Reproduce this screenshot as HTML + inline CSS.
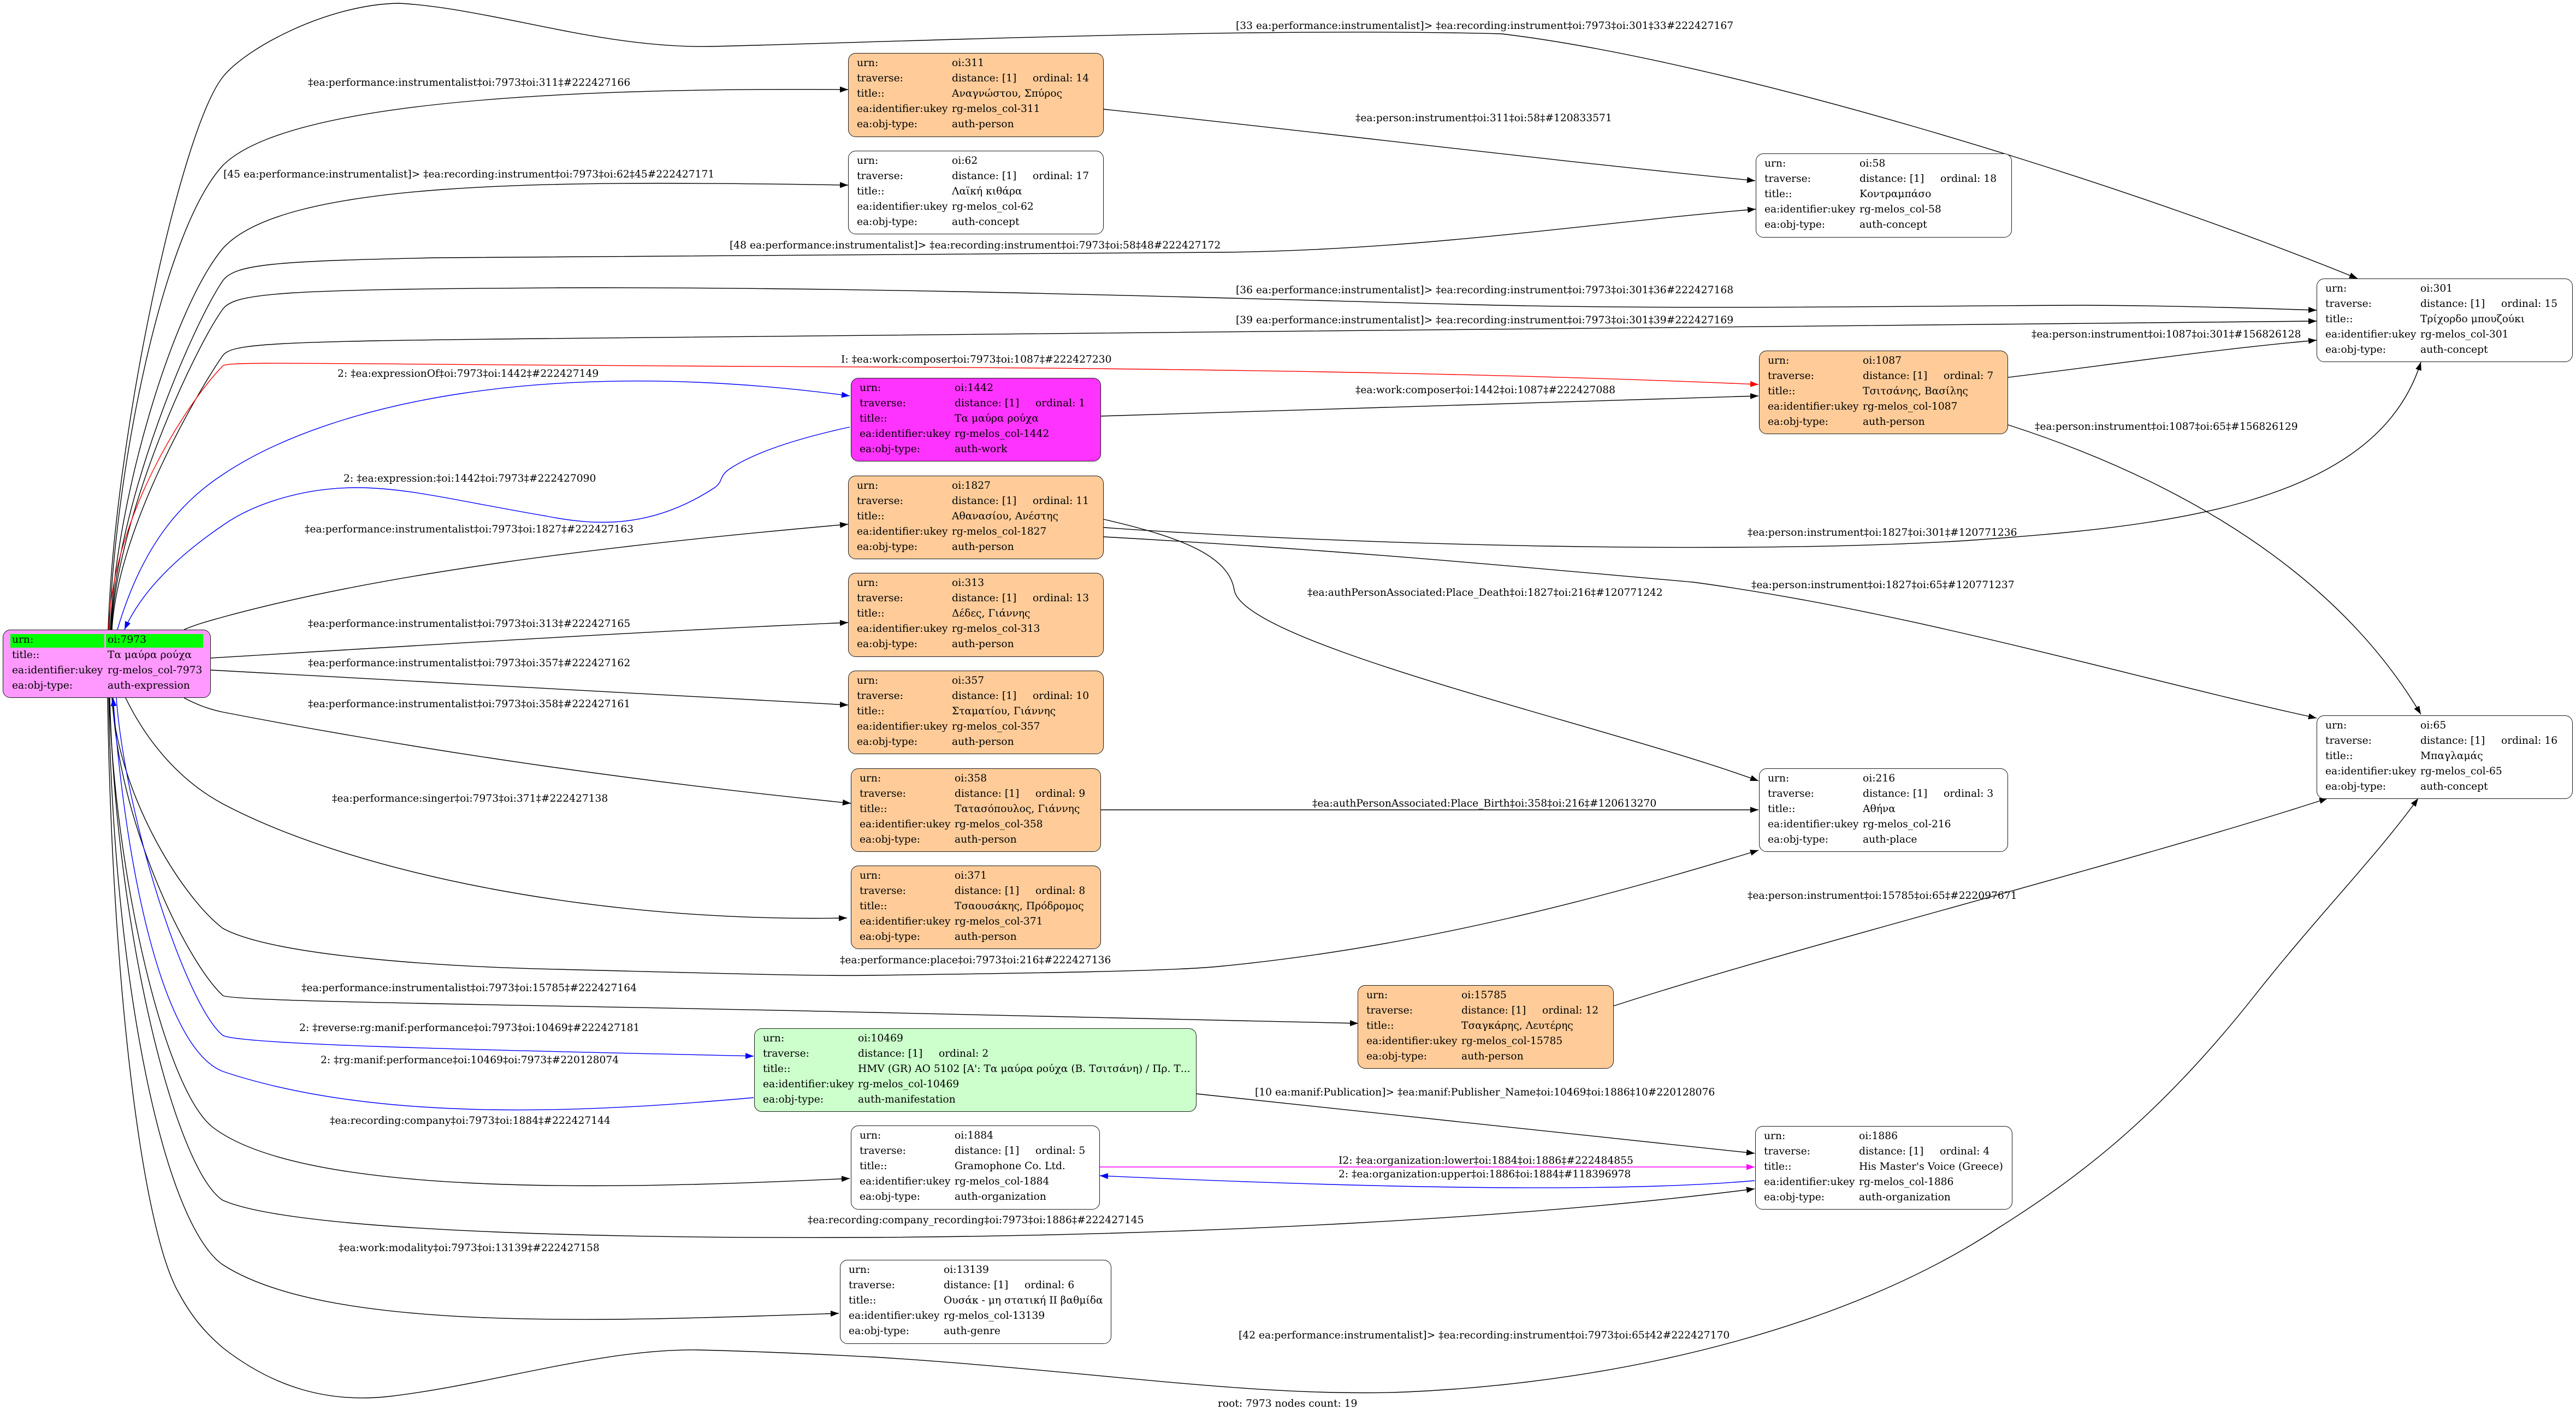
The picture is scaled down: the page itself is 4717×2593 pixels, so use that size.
<!DOCTYPE html>
<html><head><meta charset="utf-8">
<style>
body{margin:0;width:4717px;height:2593px;position:relative;background:#fff;overflow:hidden;font-family:"DejaVu Serif","Liberation Serif","Noto Serif CJK SC",serif;font-size:18.67px;color:#000}
.n{position:absolute;box-sizing:border-box;border:1.3px solid #1a1a1a;border-radius:14px}
.r{position:absolute;left:0;width:100%;height:28px;line-height:28px;white-space:nowrap}
.k{position:absolute;left:15px}
.v{position:absolute;left:189px}
.o{position:absolute;left:337px}
.l{position:absolute;white-space:nowrap;line-height:22px}
svg{position:absolute;left:0;top:0}
</style></head><body>
<svg width="4717" height="2593" viewBox="0 0 4717 2593">
<defs>
<marker id="mk" markerWidth="15" markerHeight="11" refX="15" refY="5.5" orient="auto" markerUnits="userSpaceOnUse"><path d="M0,0 L15,5.5 L0,11 z" fill="#000"/></marker>
<marker id="mb" markerWidth="15" markerHeight="11" refX="15" refY="5.5" orient="auto" markerUnits="userSpaceOnUse"><path d="M0,0 L15,5.5 L0,11 z" fill="#0000ff"/></marker>
<marker id="mr" markerWidth="15" markerHeight="11" refX="15" refY="5.5" orient="auto" markerUnits="userSpaceOnUse"><path d="M0,0 L15,5.5 L0,11 z" fill="#ff0000"/></marker>
<marker id="mm" markerWidth="15" markerHeight="11" refX="15" refY="5.5" orient="auto" markerUnits="userSpaceOnUse"><path d="M0,0 L15,5.5 L0,11 z" fill="#ff00ff"/></marker>
</defs>
<g fill="none" stroke="#000" stroke-width="1.4" marker-end="url(#mk)">
<path d="M198,1153 C210,800 330,240 408,141 C450,88 600,8 730,6 C900,15 1100,90 1306,85 C1700,75 2300,50 2750,62 C3150,110 3850,320 4317,510"/>
<path d="M200,1153 C212,850 300,420 408,303 C520,190 1000,160 1553,164"/>
<path d="M202,1153 C214,900 320,560 408,455 C520,330 1000,330 1553,339"/>
<path d="M203,1153 C214,920 350,600 408,514 C430,484 500,478 800,472 C1400,465 1900,465 2237,462 C2600,458 2900,410 3215,383"/>
<path d="M204,1153 C215,940 355,640 408,566 C430,536 520,530 1020,527 C1600,525 2200,545 2700,558 C3100,568 3600,559 3822,559 C4000,560 4150,565 4242,568"/>
<path d="M205,1153 C215,970 360,720 408,651 C425,630 480,625 1000,620 C2000,610 3000,598 4242,588"/>
<path d="M337,1153 C360,1143 380,1138 408,1130 C700,1050 1100,1000 1553,960"/>
<path d="M386,1205 C800,1180 1200,1155 1553,1140"/>
<path d="M386,1227 C800,1250 1200,1275 1553,1291"/>
<path d="M337,1278 C360,1290 380,1298 408,1304 C800,1380 1200,1435 1558,1471"/>
<path d="M230,1278 C270,1360 330,1430 408,1472 C650,1600 1100,1690 1551,1681"/>
<path d="M205,1278 C215,1450 330,1640 408,1700 C500,1750 800,1770 1020,1775 C1300,1782 1500,1788 1600,1786 C1900,1782 2150,1778 2229,1770 C2600,1735 2950,1640 3220,1557"/>
<path d="M206,1278 C215,1500 340,1760 408,1823 C420,1835 1000,1840 1600,1854 C2000,1862 2300,1870 2487,1874"/>
<path d="M200,1278 C210,1600 300,1990 388,2063 C550,2190 1100,2180 1556,2158"/>
<path d="M201,1278 C212,1700 320,2140 408,2198 C550,2260 1200,2268 1600,2266 C2200,2262 2800,2230 3213,2177"/>
<path d="M199,1278 C208,1800 300,2240 408,2316 C600,2440 1100,2420 1536,2405"/>
<path d="M197,1278 C205,1800 260,2250 327,2367 C350,2410 375,2440 408,2468 C500,2540 600,2570 714,2557 C900,2535 1100,2470 1276,2472 C1400,2475 1500,2480 1600,2485 C2000,2510 2300,2560 2575,2549 C3000,2530 3400,2420 3657,2250 C3800,2160 3950,2050 4131,1820 C4250,1670 4350,1570 4428,1462"/>
<path d="M2021,200 C2400,240 2800,290 3214,331"/>
<path d="M2016,762 C2400,750 2800,737 3220,725"/>
<path d="M3677,691 C3850,670 4050,640 4242,623"/>
<path d="M3677,778 C3900,850 4250,1000 4433,1308"/>
<path d="M2021,966 C2500,1000 3200,1015 3600,990 C3950,965 4350,930 4433,663"/>
<path d="M2021,983 C2500,1010 2800,1040 3100,1066 C3500,1120 3900,1240 4242,1315"/>
<path d="M2021,951 C2170,985 2250,1020 2260,1080 C2275,1180 2950,1330 3220,1430"/>
<path d="M2016,1483 L3220,1483"/>
<path d="M2955,1842 C3300,1730 3900,1580 4262,1462"/>
<path d="M2191,2003 L3213,2112"/>
</g>
<g fill="none" stroke="#0000ff" stroke-width="1.4" marker-end="url(#mb)">
<path d="M215,1153 C260,1000 330,920 408,869 C600,740 1000,650 1556,725"/>
<path d="M1556,782 C1450,805 1380,830 1337,858 C1316,872 1325,880 1310,892 C1200,965 1100,965 1000,945 C850,920 750,893 653,893 C550,893 460,925 408,962 C330,1015 260,1080 228,1153"/>
<path d="M213,1278 C230,1500 340,1840 408,1896 C440,1915 1000,1925 1380,1934"/>
<path d="M1380,2010 C1100,2035 700,2060 408,1962 C300,1920 230,1600 207,1278"/>
<path d="M3213,2162 C2950,2185 2500,2175 2014,2153"/>
</g>
<path d="M199,1153 C205,950 340,740 408,670 C420,660 600,668 1600,672 C2400,676 2900,690 3220,704" fill="none" stroke="#ff0000" stroke-width="1.4" marker-end="url(#mr)"/>
<path d="M2014,2137 L3213,2137" fill="none" stroke="#ff00ff" stroke-width="1.4" marker-end="url(#mm)"/>
</svg>

<!-- edge labels -->
<div class="l" style="left:2263px;top:37px">[33 ea:performance:instrumentalist]&gt; ‡ea:recording:instrument‡oi:7973‡oi:301‡33#222427167</div>
<div class="l" style="left:564px;top:141px">‡ea:performance:instrumentalist‡oi:7973‡oi:311‡#222427166</div>
<div class="l" style="left:2482px;top:206px">‡ea:person:instrument‡oi:311‡oi:58‡#120833571</div>
<div class="l" style="left:409px;top:309px">[45 ea:performance:instrumentalist]&gt; ‡ea:recording:instrument‡oi:7973‡oi:62‡45#222427171</div>
<div class="l" style="left:1336px;top:439px">[48 ea:performance:instrumentalist]&gt; ‡ea:recording:instrument‡oi:7973‡oi:58‡48#222427172</div>
<div class="l" style="left:2263px;top:521px">[36 ea:performance:instrumentalist]&gt; ‡ea:recording:instrument‡oi:7973‡oi:301‡36#222427168</div>
<div class="l" style="left:2263px;top:576px">[39 ea:performance:instrumentalist]&gt; ‡ea:recording:instrument‡oi:7973‡oi:301‡39#222427169</div>
<div class="l" style="left:3720px;top:602px">‡ea:person:instrument‡oi:1087‡oi:301‡#156826128</div>
<div class="l" style="left:1540px;top:648px">I: ‡ea:work:composer‡oi:7973‡oi:1087‡#222427230</div>
<div class="l" style="left:618px;top:674px">2: ‡ea:expressionOf‡oi:7973‡oi:1442‡#222427149</div>
<div class="l" style="left:2482px;top:704px">‡ea:work:composer‡oi:1442‡oi:1087‡#222427088</div>
<div class="l" style="left:3726px;top:771px">‡ea:person:instrument‡oi:1087‡oi:65‡#156826129</div>
<div class="l" style="left:629px;top:866px">2: ‡ea:expression:‡oi:1442‡oi:7973‡#222427090</div>
<div class="l" style="left:558px;top:959px">‡ea:performance:instrumentalist‡oi:7973‡oi:1827‡#222427163</div>
<div class="l" style="left:3200px;top:965px">‡ea:person:instrument‡oi:1827‡oi:301‡#120771236</div>
<div class="l" style="left:3207px;top:1061px">‡ea:person:instrument‡oi:1827‡oi:65‡#120771237</div>
<div class="l" style="left:2394px;top:1075px">‡ea:authPersonAssociated:Place_Death‡oi:1827‡oi:216‡#120771242</div>
<div class="l" style="left:564px;top:1132px">‡ea:performance:instrumentalist‡oi:7973‡oi:313‡#222427165</div>
<div class="l" style="left:564px;top:1204px">‡ea:performance:instrumentalist‡oi:7973‡oi:357‡#222427162</div>
<div class="l" style="left:564px;top:1279px">‡ea:performance:instrumentalist‡oi:7973‡oi:358‡#222427161</div>
<div class="l" style="left:608px;top:1452px">‡ea:performance:singer‡oi:7973‡oi:371‡#222427138</div>
<div class="l" style="left:2403px;top:1461px">‡ea:authPersonAssociated:Place_Birth‡oi:358‡oi:216‡#120613270</div>
<div class="l" style="left:3200px;top:1630px">‡ea:person:instrument‡oi:15785‡oi:65‡#222097671</div>
<div class="l" style="left:1538px;top:1748px">‡ea:performance:place‡oi:7973‡oi:216‡#222427136</div>
<div class="l" style="left:552px;top:1799px">‡ea:performance:instrumentalist‡oi:7973‡oi:15785‡#222427164</div>
<div class="l" style="left:548px;top:1872px">2: ‡reverse:rg:manif:performance‡oi:7973‡oi:10469‡#222427181</div>
<div class="l" style="left:587px;top:1931px">2: ‡rg:manif:performance‡oi:10469‡oi:7973‡#220128074</div>
<div class="l" style="left:2298px;top:1990px">[10 ea:manif:Publication]&gt; ‡ea:manif:Publisher_Name‡oi:10469‡oi:1886‡10#220128076</div>
<div class="l" style="left:604px;top:2042px">‡ea:recording:company‡oi:7973‡oi:1884‡#222427144</div>
<div class="l" style="left:2451px;top:2115px">I2: ‡ea:organization:lower‡oi:1884‡oi:1886‡#222484855</div>
<div class="l" style="left:2451px;top:2140px">2: ‡ea:organization:upper‡oi:1886‡oi:1884‡#118396978</div>
<div class="l" style="left:1479px;top:2224px">‡ea:recording:company_recording‡oi:7973‡oi:1886‡#222427145</div>
<div class="l" style="left:620px;top:2275px">‡ea:work:modality‡oi:7973‡oi:13139‡#222427158</div>
<div class="l" style="left:2268px;top:2435px">[42 ea:performance:instrumentalist]&gt; ‡ea:recording:instrument‡oi:7973‡oi:65‡42#222427170</div>
<div class="l" style="left:2230px;top:2560px">root: 7973 nodes count: 19</div>

<!-- nodes -->
<div class="n" style="left:5px;top:1153px;width:381px;height:125px;background:#ff99ff">
<div style="position:absolute;left:13px;top:7px;width:172px;height:25px;background:#00ff00"></div>
<div style="position:absolute;left:188px;top:7px;width:178px;height:25px;background:#00ff00"></div>
<div class="r" style="top:4px"><span class="k" style="left:16px">urn:</span><span class="v" style="left:191px">oi:7973</span></div>
<div class="r" style="top:32px"><span class="k" style="left:16px">title::</span><span class="v" style="left:191px">Τα μαύρα ρούχα</span></div>
<div class="r" style="top:60px"><span class="k" style="left:16px">ea:identifier:ukey</span><span class="v" style="left:191px">rg-melos_col-7973</span></div>
<div class="r" style="top:88px"><span class="k" style="left:16px">ea:obj-type:</span><span class="v" style="left:191px">auth-expression</span></div>
</div>

<div class="n" style="left:1553px;top:97px;width:468px;height:154px;background:#ffcc99">
<div class="r" style="top:4px"><span class="k">urn:</span><span class="v">oi:311</span></div>
<div class="r" style="top:32px"><span class="k">traverse:</span><span class="v">distance: [1]</span><span class="o">ordinal: 14</span></div>
<div class="r" style="top:60px"><span class="k">title::</span><span class="v">Αναγνώστου, Σπύρος</span></div>
<div class="r" style="top:88px"><span class="k">ea:identifier:ukey</span><span class="v">rg-melos_col-311</span></div>
<div class="r" style="top:116px"><span class="k">ea:obj-type:</span><span class="v">auth-person</span></div>
</div>

<div class="n" style="left:1553px;top:276px;width:468px;height:153px;background:#fff">
<div class="r" style="top:4px"><span class="k">urn:</span><span class="v">oi:62</span></div>
<div class="r" style="top:32px"><span class="k">traverse:</span><span class="v">distance: [1]</span><span class="o">ordinal: 17</span></div>
<div class="r" style="top:60px"><span class="k">title::</span><span class="v">Λαϊκή κιθάρα</span></div>
<div class="r" style="top:88px"><span class="k">ea:identifier:ukey</span><span class="v">rg-melos_col-62</span></div>
<div class="r" style="top:116px"><span class="k">ea:obj-type:</span><span class="v">auth-concept</span></div>
</div>

<div class="n" style="left:3215px;top:281px;width:469px;height:154px;background:#fff">
<div class="r" style="top:4px"><span class="k">urn:</span><span class="v">oi:58</span></div>
<div class="r" style="top:32px"><span class="k">traverse:</span><span class="v">distance: [1]</span><span class="o">ordinal: 18</span></div>
<div class="r" style="top:60px"><span class="k">title::</span><span class="v">Κοντραμπάσο</span></div>
<div class="r" style="top:88px"><span class="k">ea:identifier:ukey</span><span class="v">rg-melos_col-58</span></div>
<div class="r" style="top:116px"><span class="k">ea:obj-type:</span><span class="v">auth-concept</span></div>
</div>

<div class="n" style="left:4242px;top:510px;width:469px;height:153px;background:#fff">
<div class="r" style="top:4px"><span class="k">urn:</span><span class="v">oi:301</span></div>
<div class="r" style="top:32px"><span class="k">traverse:</span><span class="v">distance: [1]</span><span class="o">ordinal: 15</span></div>
<div class="r" style="top:60px"><span class="k">title::</span><span class="v">Τρίχορδο μπουζούκι</span></div>
<div class="r" style="top:88px"><span class="k">ea:identifier:ukey</span><span class="v">rg-melos_col-301</span></div>
<div class="r" style="top:116px"><span class="k">ea:obj-type:</span><span class="v">auth-concept</span></div>
</div>

<div class="n" style="left:3221px;top:642px;width:456px;height:153px;background:#ffcc99">
<div class="r" style="top:4px"><span class="k">urn:</span><span class="v">oi:1087</span></div>
<div class="r" style="top:32px"><span class="k">traverse:</span><span class="v">distance: [1]</span><span class="o">ordinal: 7</span></div>
<div class="r" style="top:60px"><span class="k">title::</span><span class="v">Τσιτσάνης, Βασίλης</span></div>
<div class="r" style="top:88px"><span class="k">ea:identifier:ukey</span><span class="v">rg-melos_col-1087</span></div>
<div class="r" style="top:116px"><span class="k">ea:obj-type:</span><span class="v">auth-person</span></div>
</div>

<div class="n" style="left:1558px;top:692px;width:458px;height:153px;background:#ff33ff">
<div class="r" style="top:4px"><span class="k">urn:</span><span class="v">oi:1442</span></div>
<div class="r" style="top:32px"><span class="k">traverse:</span><span class="v">distance: [1]</span><span class="o">ordinal: 1</span></div>
<div class="r" style="top:60px"><span class="k">title::</span><span class="v">Τα μαύρα ρούχα</span></div>
<div class="r" style="top:88px"><span class="k">ea:identifier:ukey</span><span class="v">rg-melos_col-1442</span></div>
<div class="r" style="top:116px"><span class="k">ea:obj-type:</span><span class="v">auth-work</span></div>
</div>

<div class="n" style="left:1553px;top:871px;width:468px;height:153px;background:#ffcc99">
<div class="r" style="top:4px"><span class="k">urn:</span><span class="v">oi:1827</span></div>
<div class="r" style="top:32px"><span class="k">traverse:</span><span class="v">distance: [1]</span><span class="o">ordinal: 11</span></div>
<div class="r" style="top:60px"><span class="k">title::</span><span class="v">Αθανασίου, Ανέστης</span></div>
<div class="r" style="top:88px"><span class="k">ea:identifier:ukey</span><span class="v">rg-melos_col-1827</span></div>
<div class="r" style="top:116px"><span class="k">ea:obj-type:</span><span class="v">auth-person</span></div>
</div>

<div class="n" style="left:1553px;top:1049px;width:468px;height:154px;background:#ffcc99">
<div class="r" style="top:4px"><span class="k">urn:</span><span class="v">oi:313</span></div>
<div class="r" style="top:32px"><span class="k">traverse:</span><span class="v">distance: [1]</span><span class="o">ordinal: 13</span></div>
<div class="r" style="top:60px"><span class="k">title::</span><span class="v">Δέδες, Γιάννης</span></div>
<div class="r" style="top:88px"><span class="k">ea:identifier:ukey</span><span class="v">rg-melos_col-313</span></div>
<div class="r" style="top:116px"><span class="k">ea:obj-type:</span><span class="v">auth-person</span></div>
</div>

<div class="n" style="left:1553px;top:1228px;width:468px;height:153px;background:#ffcc99">
<div class="r" style="top:4px"><span class="k">urn:</span><span class="v">oi:357</span></div>
<div class="r" style="top:32px"><span class="k">traverse:</span><span class="v">distance: [1]</span><span class="o">ordinal: 10</span></div>
<div class="r" style="top:60px"><span class="k">title::</span><span class="v">Σταματίου, Γιάννης</span></div>
<div class="r" style="top:88px"><span class="k">ea:identifier:ukey</span><span class="v">rg-melos_col-357</span></div>
<div class="r" style="top:116px"><span class="k">ea:obj-type:</span><span class="v">auth-person</span></div>
</div>

<div class="n" style="left:1558px;top:1407px;width:458px;height:153px;background:#ffcc99">
<div class="r" style="top:4px"><span class="k">urn:</span><span class="v">oi:358</span></div>
<div class="r" style="top:32px"><span class="k">traverse:</span><span class="v">distance: [1]</span><span class="o">ordinal: 9</span></div>
<div class="r" style="top:60px"><span class="k">title::</span><span class="v">Τατασόπουλος, Γιάννης</span></div>
<div class="r" style="top:88px"><span class="k">ea:identifier:ukey</span><span class="v">rg-melos_col-358</span></div>
<div class="r" style="top:116px"><span class="k">ea:obj-type:</span><span class="v">auth-person</span></div>
</div>

<div class="n" style="left:1558px;top:1585px;width:458px;height:153px;background:#ffcc99">
<div class="r" style="top:4px"><span class="k">urn:</span><span class="v">oi:371</span></div>
<div class="r" style="top:32px"><span class="k">traverse:</span><span class="v">distance: [1]</span><span class="o">ordinal: 8</span></div>
<div class="r" style="top:60px"><span class="k">title::</span><span class="v">Τσαουσάκης, Πρόδρομος</span></div>
<div class="r" style="top:88px"><span class="k">ea:identifier:ukey</span><span class="v">rg-melos_col-371</span></div>
<div class="r" style="top:116px"><span class="k">ea:obj-type:</span><span class="v">auth-person</span></div>
</div>

<div class="n" style="left:3221px;top:1407px;width:456px;height:153px;background:#fff">
<div class="r" style="top:4px"><span class="k">urn:</span><span class="v">oi:216</span></div>
<div class="r" style="top:32px"><span class="k">traverse:</span><span class="v">distance: [1]</span><span class="o">ordinal: 3</span></div>
<div class="r" style="top:60px"><span class="k">title::</span><span class="v">Αθήνα</span></div>
<div class="r" style="top:88px"><span class="k">ea:identifier:ukey</span><span class="v">rg-melos_col-216</span></div>
<div class="r" style="top:116px"><span class="k">ea:obj-type:</span><span class="v">auth-place</span></div>
</div>

<div class="n" style="left:4242px;top:1310px;width:469px;height:153px;background:#fff">
<div class="r" style="top:4px"><span class="k">urn:</span><span class="v">oi:65</span></div>
<div class="r" style="top:32px"><span class="k">traverse:</span><span class="v">distance: [1]</span><span class="o">ordinal: 16</span></div>
<div class="r" style="top:60px"><span class="k">title::</span><span class="v">Μπαγλαμάς</span></div>
<div class="r" style="top:88px"><span class="k">ea:identifier:ukey</span><span class="v">rg-melos_col-65</span></div>
<div class="r" style="top:116px"><span class="k">ea:obj-type:</span><span class="v">auth-concept</span></div>
</div>

<div class="n" style="left:2486px;top:1804px;width:469px;height:153px;background:#ffcc99">
<div class="r" style="top:4px"><span class="k">urn:</span><span class="v">oi:15785</span></div>
<div class="r" style="top:32px"><span class="k">traverse:</span><span class="v">distance: [1]</span><span class="o">ordinal: 12</span></div>
<div class="r" style="top:60px"><span class="k">title::</span><span class="v">Τσαγκάρης, Λευτέρης</span></div>
<div class="r" style="top:88px"><span class="k">ea:identifier:ukey</span><span class="v">rg-melos_col-15785</span></div>
<div class="r" style="top:116px"><span class="k">ea:obj-type:</span><span class="v">auth-person</span></div>
</div>

<div class="n" style="left:1381px;top:1883px;width:810px;height:153px;background:#ccffcc">
<div class="r" style="top:4px"><span class="k">urn:</span><span class="v">oi:10469</span></div>
<div class="r" style="top:32px"><span class="k">traverse:</span><span class="v">distance: [1]</span><span class="o">ordinal: 2</span></div>
<div class="r" style="top:60px"><span class="k">title::</span><span class="v">HMV (GR) AO 5102 [Α': Τα μαύρα ρούχα (Β. Τσιτσάνη) / Πρ. Τ...</span></div>
<div class="r" style="top:88px"><span class="k">ea:identifier:ukey</span><span class="v">rg-melos_col-10469</span></div>
<div class="r" style="top:116px"><span class="k">ea:obj-type:</span><span class="v">auth-manifestation</span></div>
</div>

<div class="n" style="left:1558px;top:2061px;width:456px;height:154px;background:#fff">
<div class="r" style="top:4px"><span class="k">urn:</span><span class="v">oi:1884</span></div>
<div class="r" style="top:32px"><span class="k">traverse:</span><span class="v">distance: [1]</span><span class="o">ordinal: 5</span></div>
<div class="r" style="top:60px"><span class="k">title::</span><span class="v">Gramophone Co. Ltd.</span></div>
<div class="r" style="top:88px"><span class="k">ea:identifier:ukey</span><span class="v">rg-melos_col-1884</span></div>
<div class="r" style="top:116px"><span class="k">ea:obj-type:</span><span class="v">auth-organization</span></div>
</div>

<div class="n" style="left:3214px;top:2062px;width:471px;height:153px;background:#fff">
<div class="r" style="top:4px"><span class="k">urn:</span><span class="v">oi:1886</span></div>
<div class="r" style="top:32px"><span class="k">traverse:</span><span class="v">distance: [1]</span><span class="o">ordinal: 4</span></div>
<div class="r" style="top:60px"><span class="k">title::</span><span class="v">His Master's Voice (Greece)</span></div>
<div class="r" style="top:88px"><span class="k">ea:identifier:ukey</span><span class="v">rg-melos_col-1886</span></div>
<div class="r" style="top:116px"><span class="k">ea:obj-type:</span><span class="v">auth-organization</span></div>
</div>

<div class="n" style="left:1538px;top:2307px;width:497px;height:154px;background:#fff">
<div class="r" style="top:4px"><span class="k">urn:</span><span class="v">oi:13139</span></div>
<div class="r" style="top:32px"><span class="k">traverse:</span><span class="v">distance: [1]</span><span class="o">ordinal: 6</span></div>
<div class="r" style="top:60px"><span class="k">title::</span><span class="v">Ουσάκ - μη στατική ΙΙ βαθμίδα</span></div>
<div class="r" style="top:88px"><span class="k">ea:identifier:ukey</span><span class="v">rg-melos_col-13139</span></div>
<div class="r" style="top:116px"><span class="k">ea:obj-type:</span><span class="v">auth-genre</span></div>
</div>

</body></html>
